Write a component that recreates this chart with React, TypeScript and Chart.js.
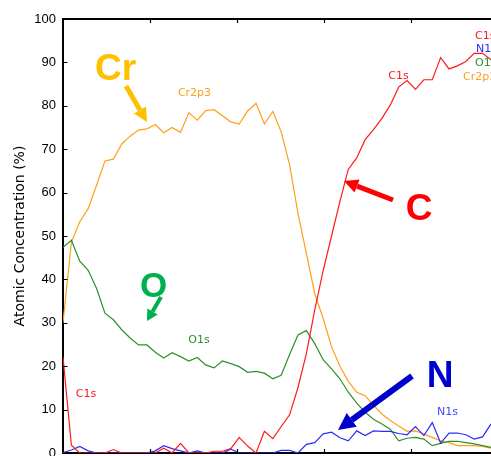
import React, { useEffect, useRef } from 'react';
import { Chart, registerables } from 'chart.js';

Chart.register(...registerables);

// Sputter cycle index (x positions of measurements)
const cycles: number[] = Array.from({ length: 52 }, (_, i) => i);

const cr2p3: number[] = [
  30, 48.6, 53.3, 56.3, 61.7, 67.3, 67.7, 71.2, 73.0, 74.4,
  74.7, 75.7, 73.8, 75.0, 73.9, 78.4, 76.7, 78.9, 79.1, 77.7,
  76.3, 75.8, 78.8, 80.6, 75.8, 78.7, 74.0, 66.4, 55.2, 46.0,
  36.7, 31.0, 24.5, 20.0, 16.5, 14.0, 13.2, 11.0, 9.0, 7.5,
  6.2, 5.0, 5.1, 4.4, 3.6, 2.8, 2.4, 1.7, 1.7, 1.7,
  1.5, 1.1,
];

const o1s: number[] = [
  47.4, 49.0, 44.2, 42.1, 37.9, 32.2, 30.7, 28.4, 26.5, 24.9,
  24.9, 23.2, 21.9, 23.1, 22.2, 21.2, 22.0, 20.3, 19.6, 21.2,
  20.6, 19.9, 18.6, 18.8, 18.4, 17.1, 17.9, 22.7, 27.2, 28.2,
  25.2, 21.5, 19.4, 17.1, 14.0, 11.5, 9.4, 7.8, 6.7, 5.5,
  2.8, 3.4, 3.6, 3.2, 1.7, 2.2, 2.7, 2.7, 2.4, 2.1,
  1.7, 1.3,
];

const c1s: number[] = [
  22.1, 1.8, 0, 0, 0, 0, 0.8, 0, 0, 0,
  0, 0, 1.1, 0, 2.2, 0, 0, 0, 0.4, 0.4,
  1.0, 3.6, 1.6, 0, 5.0, 3.3, 6.1, 8.8, 15.1, 22.9,
  33.0, 42.0, 50.0, 58.0, 65.4, 68.0, 72.2, 74.5, 77.1, 80.2,
  84.3, 85.8, 83.8, 86.0, 86.0, 91.1, 88.5, 89.2, 90.2, 92.1,
  92.1, 90.6,
];

const n1s: number[] = [
  0.1, 0.7, 1.5, 0.5, 0, 0, 0, 0, 0, 0,
  0, 0.5, 1.7, 1.0, 0.5, 0, 0.5, 0, 0, 0,
  0.9, 0, 0, 0, 0, 0, 0.6, 0.6, 0, 2.0,
  2.4, 4.4, 4.8, 3.5, 2.8, 5.1, 4.0, 5.1, 5.0, 5.0,
  4.5, 4.2, 6.1, 4.0, 7.0, 2.3, 4.6, 4.6, 4.2, 3.2,
  3.7, 6.7,
];

// Unlabelled x tick marks (top and bottom frame)
const xTickMarks: number[] = [10.37, 20.73, 31.1, 41.47];
const yTickValues: number[] = [0, 10, 20, 30, 40, 50, 60, 70, 80, 90, 100];

const COLORS = {
  cr: '#FF9F1A',
  o: '#2E8F2E',
  c: '#FF1A1A',
  n: '#2B2BFF',
};

const toPoints = (ys: number[]) => ys.map((y, i) => ({ x: cycles[i], y }));

function drawArrow(
  ctx: CanvasRenderingContext2D,
  x1: number, y1: number, x2: number, y2: number,
  color: string, shaft: number, headLen: number, headW: number
) {
  const ang = Math.atan2(y2 - y1, x2 - x1);
  const bx = x2 - headLen * Math.cos(ang);
  const by = y2 - headLen * Math.sin(ang);
  ctx.save();
  ctx.strokeStyle = color;
  ctx.fillStyle = color;
  ctx.lineWidth = shaft;
  ctx.lineCap = 'butt';
  ctx.beginPath();
  ctx.moveTo(x1, y1);
  ctx.lineTo(bx, by);
  ctx.stroke();
  const px = -Math.sin(ang) * headW / 2;
  const py = Math.cos(ang) * headW / 2;
  ctx.beginPath();
  ctx.moveTo(x2, y2);
  ctx.lineTo(bx + px, by + py);
  ctx.lineTo(bx - px, by - py);
  ctx.closePath();
  ctx.fill();
  ctx.restore();
}

const overlayPlugin = {
  id: 'overlay',
  afterDraw(chart: any) {
    const ctx: CanvasRenderingContext2D = chart.ctx;
    const { top, bottom, left } = chart.chartArea;
    const xs = chart.scales.x;
    const ys = chart.scales.y;
    ctx.save();
    // inward tick marks
    ctx.strokeStyle = '#000';
    ctx.lineWidth = 1.2;
    ctx.beginPath();
    yTickValues.forEach((v) => {
      const py = Math.round(ys.getPixelForValue(v)) + 0.5;
      ctx.moveTo(left, py);
      ctx.lineTo(left + 4.5, py);
    });
    xTickMarks.forEach((v) => {
      const px = Math.round(xs.getPixelForValue(v)) + 0.5;
      ctx.moveTo(px, top);
      ctx.lineTo(px, top + 4);
      ctx.moveTo(px, bottom);
      ctx.lineTo(px, bottom - 4);
    });
    ctx.stroke();

    // big annotation letters
    ctx.textAlign = 'center';
    ctx.textBaseline = 'alphabetic';
    ctx.font = 'bold 37px "Liberation Sans", Arial, sans-serif';
    ctx.fillStyle = '#FFC000';
    ctx.fillText('Cr', 115.5, 80);
    ctx.fillStyle = '#00B050';
    ctx.font = 'bold 35px "Liberation Sans", Arial, sans-serif';
    ctx.fillText('O', 153.5, 296.5);
    ctx.fillStyle = '#FF0000';
    ctx.font = 'bold 37px "Liberation Sans", Arial, sans-serif';
    ctx.fillText('C', 419, 219.5);
    ctx.fillStyle = '#0000CC';
    ctx.fillText('N', 440, 387);

    // arrows
    drawArrow(ctx, 126, 86, 147, 122, '#FFC000', 5, 14, 14);
    drawArrow(ctx, 161, 297, 147, 321, '#00B050', 4, 11, 12);
    drawArrow(ctx, 393, 200, 344, 181, '#FF0000', 5, 14, 14);
    drawArrow(ctx, 412, 376, 338, 430, '#0000CC', 6, 17, 17);

    // small peak labels
    ctx.font = '11px "DejaVu Sans", sans-serif';
    ctx.fillStyle = COLORS.cr;
    ctx.fillText('Cr2p3', 194.5, 96);
    ctx.fillStyle = COLORS.o;
    ctx.fillText('O1s', 199, 343);
    ctx.fillStyle = COLORS.c;
    ctx.fillText('C1s', 86, 396.5);
    ctx.fillText('C1s', 398.5, 79);
    ctx.fillStyle = '#4545FF';
    ctx.fillText('N1s', 447.5, 415);

    // right-hand stacked labels
    ctx.textAlign = 'left';
    ctx.fillStyle = COLORS.c;
    ctx.fillText('C1s', 475, 38.5);
    ctx.fillStyle = COLORS.n;
    ctx.fillText('N1s', 476, 52);
    ctx.fillStyle = COLORS.o;
    ctx.fillText('O1s', 475, 66);
    ctx.fillStyle = COLORS.cr;
    ctx.fillText('Cr2p3', 463, 80);
    ctx.restore();
  },
};

export default function App() {
  const canvasRef = useRef<HTMLCanvasElement | null>(null);

  useEffect(() => {
    document.body.style.margin = '0';
    const canvas = canvasRef.current;
    if (!canvas) return;
    const lineDs = (label: string, data: number[], color: string) => ({
      label,
      data: toPoints(data),
      borderColor: color,
      backgroundColor: color,
      borderWidth: 1.2,
      pointRadius: 0,
      tension: 0,
      fill: false,
    });
    const chart = new Chart(canvas, {
      type: 'line',
      data: {
        datasets: [
          lineDs('C1s', c1s, COLORS.c),
          lineDs('N1s', n1s, COLORS.n),
          lineDs('O1s', o1s, COLORS.o),
          lineDs('Cr2p3', cr2p3, COLORS.cr),
        ],
      },
      options: {
        responsive: false,
        animation: false,
        devicePixelRatio: 1,
        layout: { padding: { top: 19, left: 0, right: 0, bottom: 0 } },
        plugins: {
          legend: { display: false },
          tooltip: { enabled: false },
        },
        scales: {
          x: {
            type: 'linear',
            min: 0,
            max: 51,
            ticks: { display: false },
            grid: { display: false, drawTicks: false },
            border: { display: true, color: '#000', width: 2 },
            afterFit: (scale: any) => {
              scale.height = 3;
              scale.paddingLeft = 0;
              scale.paddingRight = 0;
            },
          },
          xTop: {
            type: 'linear',
            position: 'top',
            min: 0,
            max: 51,
            ticks: { display: false },
            grid: { display: false, drawTicks: false },
            border: { display: true, color: '#000', width: 2 },
            afterFit: (scale: any) => {
              scale.height = 0;
              scale.paddingLeft = 0;
              scale.paddingRight = 0;
            },
          },
          y: {
            min: 0,
            max: 100,
            ticks: {
              stepSize: 10,
              padding: 7,
              color: '#000',
              font: { family: '"Liberation Sans", Arial, sans-serif', size: 13 },
            },
            grid: { display: false, drawTicks: false },
            border: { display: true, color: '#000', width: 2 },
            title: {
              display: true,
              text: 'Atomic Concentration (%)',
              color: '#000',
              font: { family: '"DejaVu Sans", sans-serif', size: 14 },
              padding: { top: 12, bottom: 0 },
            },
            afterFit: (scale: any) => {
              scale.width = 63;
              scale.paddingTop = 0;
              scale.paddingBottom = 0;
            },
          },
        },
      },
      plugins: [overlayPlugin],
    });
    return () => chart.destroy();
  }, []);

  return (
    <div style={{ position: 'absolute', left: 0, top: 0, width: 491, height: 456 }}>
      <canvas ref={canvasRef} width={491} height={456} style={{ display: 'block' }} />
    </div>
  );
}
